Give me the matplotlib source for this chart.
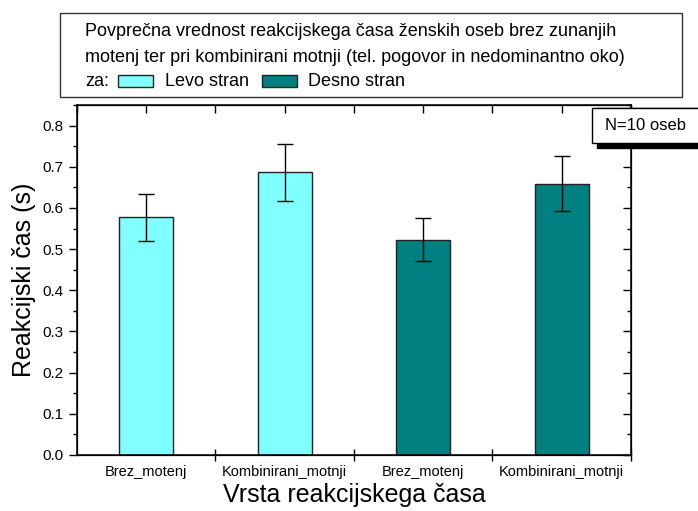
import numpy as np
import matplotlib.pyplot as plt
from matplotlib.patches import Rectangle
from matplotlib.ticker import MultipleLocator, FixedLocator, NullFormatter

categories = ["Brez_motenj", "Kombinirani_motnji", "Brez_motenj", "Kombinirani_motnji"]
means = [0.577, 0.687, 0.523, 0.659]
errors = [0.058, 0.069, 0.053, 0.066]
side = ["Levo stran", "Levo stran", "Desno stran", "Desno stran"]
side_colors = {"Levo stran": "#80FFFF", "Desno stran": "#008080"}

plt.rcParams["font.family"] = ["Liberation Sans", "DejaVu Sans"]

fig = plt.figure(figsize=(6.98, 5.11), dpi=100)
ax = fig.add_axes([0.1103, 0.1096, 0.7937, 0.6849])

x = np.arange(len(categories))
ax.bar(x, means, width=0.39, color=[side_colors[s] for s in side],
       edgecolor="#222222", linewidth=1.0, zorder=2)
ax.errorbar(x, means, yerr=errors, fmt="none", ecolor="black",
            elinewidth=1.0, capsize=5.5, capthick=1.0, zorder=3)

ax.set_xlim(-0.5, 3.5)
ax.set_ylim(0, 0.85)
ax.xaxis.set_major_locator(FixedLocator([0.5, 1.5, 2.5, 3.5]))
ax.xaxis.set_major_formatter(NullFormatter())
ax.xaxis.set_minor_locator(FixedLocator(x))
ax.set_xticklabels(categories, minor=True, fontsize=10.5)
ax.tick_params(axis="x", which="major", direction="inout", length=8, width=1)
ax.tick_params(axis="x", which="minor", direction="in", length=3, width=0.8, pad=7)

ax.yaxis.set_major_locator(MultipleLocator(0.1))
ax.yaxis.set_minor_locator(MultipleLocator(0.05))
ax.yaxis.set_major_formatter(plt.FuncFormatter(lambda v, p: f"{v:.1f}"))
ax.tick_params(axis="y", which="major", direction="out", length=6, width=1, labelsize=11)
ax.tick_params(axis="y", which="minor", direction="out", length=3, width=1)

for s in ax.spines.values():
    s.set_linewidth(1.1)

# right axis ticks (inward)
axr = ax.twinx()
axr.set_ylim(ax.get_ylim())
axr.yaxis.set_major_locator(MultipleLocator(0.1))
axr.yaxis.set_minor_locator(MultipleLocator(0.05))
axr.tick_params(axis="y", which="both", direction="in", labelright=False)
axr.tick_params(axis="y", which="major", length=6, width=1)
axr.tick_params(axis="y", which="minor", length=3, width=1)

# top axis ticks (inward)
axt = ax.twiny()
axt.set_xlim(ax.get_xlim())
axt.xaxis.set_major_locator(MultipleLocator(0.5))
axt.tick_params(axis="x", direction="in", length=6, width=1, labeltop=False)

ax.set_ylabel("Reakcijski čas (s)", fontsize=18, labelpad=5)
ax.set_xlabel("Vrsta reakcijskega časa", fontsize=18, labelpad=3)

# title / legend box
fs = 13
fig.patches.append(Rectangle((60 / 698, 1 - 97 / 511), 622 / 698, 84 / 511,
                             transform=fig.transFigure, facecolor="white",
                             edgecolor="#333333", linewidth=1.0, zorder=5))
fig.text(85 / 698, 1 - 32 / 511,
         "Povprečna vrednost reakcijskega časa ženskih oseb brez zunanjih",
         fontsize=fs, va="center", zorder=6)
fig.text(85 / 698, 1 - 57 / 511,
         "motenj ter pri kombinirani motnji (tel. pogovor in nedominantno oko)",
         fontsize=fs, va="center", zorder=6)
fig.text(85 / 698, 1 - 81 / 511, "za:", fontsize=fs, va="center", zorder=6)
fig.patches.append(Rectangle((118 / 698, 1 - 87 / 511), 35 / 698, 12 / 511,
                             transform=fig.transFigure, facecolor=side_colors["Levo stran"],
                             edgecolor="#222222", linewidth=1.0, zorder=6))
fig.text(165 / 698, 1 - 81 / 511, "Levo stran", fontsize=fs, va="center", zorder=6)
fig.patches.append(Rectangle((262 / 698, 1 - 87 / 511), 35 / 698, 12 / 511,
                             transform=fig.transFigure, facecolor=side_colors["Desno stran"],
                             edgecolor="#222222", linewidth=1.0, zorder=6))
fig.text(308 / 698, 1 - 81 / 511, "Desno stran", fontsize=fs, va="center", zorder=6)

# N box with shadow
fig.patches.append(Rectangle((597 / 698, 1 - 148 / 511), 110 / 698, 40 / 511,
                             transform=fig.transFigure, facecolor="black",
                             edgecolor="black", zorder=5))
fig.patches.append(Rectangle((592 / 698, 1 - 143 / 511), 110 / 698, 35 / 511,
                             transform=fig.transFigure, facecolor="white",
                             edgecolor="black", linewidth=1.0, zorder=6))
fig.text(605 / 698, 1 - 126 / 511, "N=10 oseb", fontsize=12, ha="left",
         va="center", zorder=7)

fig.savefig("out.png", dpi=100)
